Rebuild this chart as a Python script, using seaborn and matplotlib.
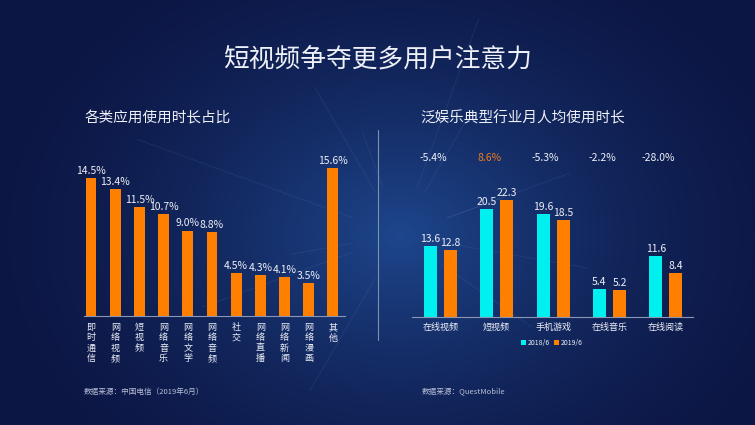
import numpy as np
import pandas as pd
import seaborn as sns
import matplotlib
matplotlib.use("Agg")
import matplotlib.pyplot as plt
import matplotlib.transforms as mtransforms

# left chart: share of usage time by app category
apps = ["即时通信", "网络视频", "短视频", "网络音乐", "网络文学", "网络音频",
        "社交", "网络直播", "网络新闻", "网络漫画", "其他"]
share = [14.5, 13.4, 11.5, 10.7, 9.0, 8.8, 4.5, 4.3, 4.1, 3.5, 15.6]

# right chart: monthly usage time per user
industries = ["在线视频", "短视频", "手机游戏", "在线音乐", "在线阅读"]
hours_2018 = [13.6, 20.5, 19.6, 5.4, 11.6]
hours_2019 = [12.8, 22.3, 18.5, 5.2, 8.4]
changes = ["-5.4%", "8.6%", "-5.3%", "-2.2%", "-28.0%"]
periods = ["2018/6", "2019/6"]

ORANGE = "#ff7f00"
CYAN = "#00f0f0"
TEXT = "#eef0f8"
W, H = 755, 425

sns.set_style("dark")
plt.rcParams["font.family"] = ["Noto Sans CJK SC", "DejaVu Sans"]
NUM_FONT = ["Liberation Sans Narrow", "Noto Sans CJK SC", "DejaVu Sans"]

fig = plt.figure(figsize=(W / 100, H / 100), dpi=100)

# background: navy with a soft glow around the middle
bg = fig.add_axes([0, 0, 1, 1])
yy, xx = np.mgrid[0:H, 0:W]
d = np.sqrt(((xx - 400) / 1.3) ** 2 + (yy - 235) ** 2)
glow = np.clip(1 - d / 330, 0, 1) ** 1.6
base = np.array([0x0c, 0x16, 0x44]) / 255
light = np.array([0x1e, 0x46, 0x8c]) / 255
img = base[None, None, :] + glow[..., None] * (light - base)[None, None, :]
bg.imshow(img, extent=[0, W, H, 0], aspect="auto")
rays = [(-20, 60), (10, 140), (35, 110), (160, 160), (200, 230), (250, 60),
        (300, 80), (340, 130), (480, 130), (530, 60), (600, 120), (650, 180)]
for ang, ln in rays:
    a = np.deg2rad(ang)
    r0 = 50
    bg.plot([400 + r0 * np.cos(a), 400 + (r0 + ln) * np.cos(a)],
            [235 + r0 * np.sin(a), 235 + (r0 + ln) * np.sin(a)],
            color="#6f8cc8", alpha=0.12, lw=0.8)
bg.set_xlim(0, W)
bg.set_ylim(H, 0)
bg.axis("off")

# titles and notes
fig.text(378 / W, 1 - 60 / H, "短视频争夺更多用户注意力", color=TEXT,
         fontsize=18.5, ha="center", va="center")
fig.text(85 / W, 1 - 118 / H, "各类应用使用时长占比", color=TEXT,
         fontsize=10.5, ha="left", va="center")
fig.text(420 / W, 1 - 118 / H, "泛娱乐典型行业月人均使用时长", color=TEXT,
         fontsize=10.5, ha="left", va="center")
fig.text(84 / W, 1 - 392 / H, "数据来源：中国电信（2019年6月）", color="#b8bfd8",
         fontsize=5.5, ha="left", va="center")
fig.text(422 / W, 1 - 392 / H, "数据来源：QuestMobile", color="#b8bfd8",
         fontsize=5.5, ha="left", va="center")
bg.plot([378, 378], [130, 340], color="#7f8fb0", lw=0.8)


def style_axis(ax):
    ax.set_facecolor("none")
    for s in ["top", "right", "left"]:
        ax.spines[s].set_visible(False)
    ax.spines["bottom"].set_color("#8a96b4")
    ax.spines["bottom"].set_linewidth(0.8)
    ax.set_yticks([])
    ax.set_xlabel("")
    ax.set_ylabel("")
    ax.grid(False)
    ax.tick_params(axis="x", length=0, colors=TEXT)


# left chart
axh = 165
ax1 = fig.add_axes([84 / W, (H - 316) / H, 261 / W, axh / H])
df1 = pd.DataFrame({"app": apps, "share": share})
sns.barplot(data=df1, x="app", y="share", order=apps, color=ORANGE,
            width=0.45, saturation=1, linewidth=0, ax=ax1)
style_axis(ax1)
ax1.set_xlim(-0.29, 10.5)
ax1.set_ylim(0, axh / 9.5)
ax1.bar_label(ax1.containers[0], fmt="%.1f%%", padding=1.5, color=TEXT,
              fontsize=7.5, family=NUM_FONT)
ax1.set_xticks(range(len(apps)))
ax1.set_xticklabels(["\n".join(a) for a in apps], fontsize=6.5,
                    linespacing=1.2, va="top")
ax1.tick_params(axis="x", pad=5)

# right chart
ax2 = fig.add_axes([412 / W, (H - 317) / H, 281 / W, axh / H])
df2 = pd.DataFrame({
    "industry": industries * 2,
    "hours": hours_2018 + hours_2019,
    "period": [periods[0]] * 5 + [periods[1]] * 5,
})
sns.barplot(data=df2, x="industry", y="hours", hue="period", order=industries,
            hue_order=periods, palette=[CYAN, ORANGE], width=0.71, gap=0.35,
            saturation=1, linewidth=0, ax=ax2)
style_axis(ax2)
ax2.set_xlim(-0.5, 4.48)
ax2.set_ylim(0, axh / 5.25)
for cont in ax2.containers:
    ax2.bar_label(cont, fmt="%.1f", padding=1.5, color=TEXT, fontsize=7.5,
                  family=NUM_FONT)
ax2.tick_params(axis="x", labelsize=6.5, pad=4)
trans = mtransforms.blended_transform_factory(ax2.transData, fig.transFigure)
for i, c in enumerate(changes):
    col = "#f07a1a" if not c.startswith("-") else TEXT
    ax2.text(i - 0.13, 1 - 158 / H, c, transform=trans, ha="center",
             va="center", color=col, fontsize=7.5, family=NUM_FONT)
leg = ax2.legend(loc="center", bbox_to_anchor=(552 / W, 1 - 343 / H),
                 bbox_transform=fig.transFigure, ncol=2, frameon=False,
                 fontsize=5, handlelength=0.7, handleheight=0.7,
                 handletextpad=0.3, columnspacing=0.6)
for t in leg.get_texts():
    t.set_color(TEXT)
for p in leg.get_patches():
    p.set_linewidth(0)

fig.savefig("out.png", dpi=100)
